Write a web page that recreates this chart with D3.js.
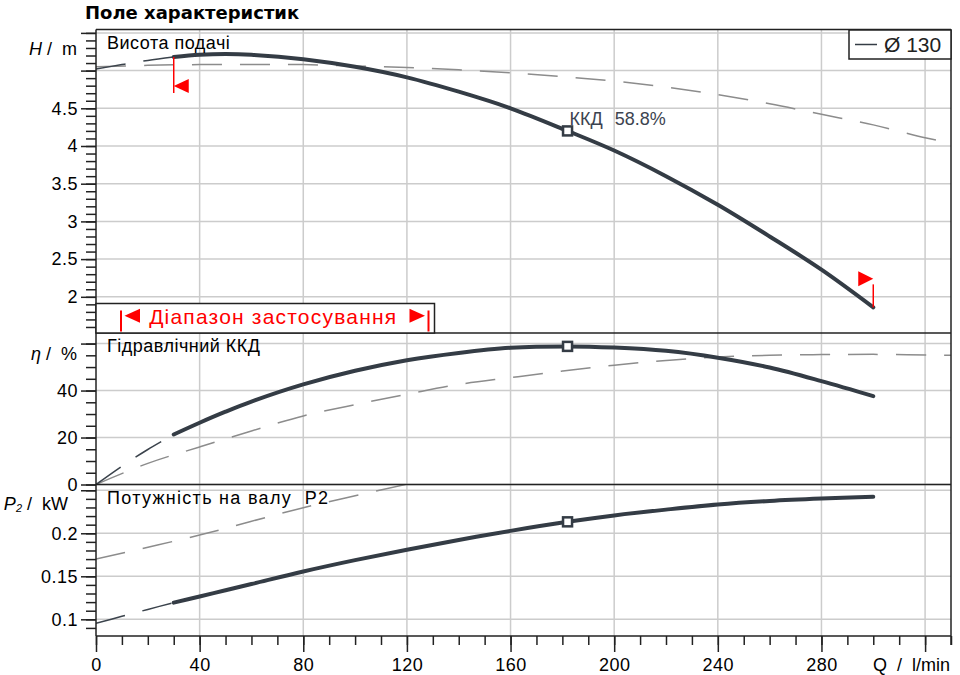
<!DOCTYPE html>
<html>
<head>
<meta charset="utf-8">
<script src="https://cdn.jsdelivr.net/npm/d3@7"></script>
<style>
  body { margin: 0; background: #fff; }
  svg { display: block; font-family: "Liberation Sans", Arial, sans-serif; }
  svg text { white-space: pre; }
</style>
</head>
<body>
<svg id="chart"></svg>
<script>
// ---- data ----
const xTicks = [0, 40, 80, 120, 160, 200, 240, 280, 320];
const xLabels = ["0", "40", "80", "120", "160", "200", "240", "280", ""];

// operating range of the Ø 130 impeller (solid lines)
const qMain = [30, 40, 50, 60, 80, 100, 120, 140, 160, 182, 200, 220, 240, 260, 280, 300];
const headMain = [5.18, 5.21, 5.22, 5.21, 5.15, 5.05, 4.91, 4.72, 4.50, 4.20, 3.94, 3.60, 3.22, 2.80, 2.36, 1.86];
const etaMain = [21.3, 26.3, 31.0, 35.3, 42.6, 48.4, 52.9, 56.0, 58.2, 58.8, 58.3, 56.9, 54.0, 49.8, 44.0, 37.6];
const powerMain = [0.1194, 0.1265, 0.1338, 0.1410, 0.1556, 0.1688, 0.1809, 0.1922, 0.2028, 0.2133, 0.2207, 0.2275, 0.2335, 0.2376, 0.2404, 0.2425];

// run-in below the operating range (thin dark dashes)
const qLow = [0, 10, 20, 30];
const headLow = [5.02, 5.08, 5.135, 5.18];
const etaLow = [0, 7.8, 14.9, 21.3];
const powerLow = [0.0953, 0.1035, 0.1115, 0.1194];

// reference curves (grey dashes)
const qHeadRef = [0, 20, 40, 60, 80, 100, 120, 140, 160, 180, 200, 220, 240, 260, 280, 300, 320, 330];
const headRef = [5.05, 5.07, 5.08, 5.08, 5.08, 5.06, 5.04, 5.01, 4.97, 4.92, 4.86, 4.78, 4.68, 4.56, 4.42, 4.28, 4.11, 4.04];
const qEtaRef = [0, 20, 40, 60, 80, 100, 120, 140, 160, 180, 200, 220, 240, 260, 280, 300, 330];
const etaRef = [0, 9.0, 16.0, 22.8, 29.2, 34.0, 38.4, 42.6, 45.5, 48.3, 50.8, 52.8, 54.3, 55.0, 55.3, 55.4, 55.0];
const qPowerRef = [0, 40, 80, 120];
const powerRef = [0.170, 0.198, 0.2297, 0.257];

const dutyIndex = qMain.indexOf(182);

// axis ticks per panel
const headMajor = [2, 2.5, 3, 3.5, 4, 4.5, 5, 5.5];
const headLabels = ["2", "2.5", "3", "3.5", "4", "4.5", "", ""];
const headMinor = d3.range(16, 56).map(d => d / 10);
const etaMajor = [0, 20, 40, 60];
const etaLabels = ["0", "20", "40", ""];
const etaMinor = d3.range(0, 61, 5);
const powerMajor = [0.1, 0.15, 0.2, 0.25];
const powerLabels = ["0.1", "0.15", "0.2", ""];
const powerMinor = d3.range(9, 26).map(d => d / 100);

class PumpCurveVis {
    constructor(_config) {
        this.config = {
            parentElement: _config.parentElement,
            containerWidth: _config.containerWidth || 960,
            containerHeight: _config.containerHeight || 675,
            left: 96,
            right: 951,
            top: 29.5,
            bottom: 636,
        };
        this.initVis();
    }

    initVis() {
        let vis = this;
        const c = vis.config;

        vis.svg = d3.select(c.parentElement)
            .attr("width", c.containerWidth)
            .attr("height", c.containerHeight);

        vis.x = d3.scaleLinear().domain([0, 330]).range([c.left, c.right]);

        vis.panels = [
            {
                key: "head", top: c.top, bottom: 333, domain: [1.52, 5.545],
                major: headMajor, labels: headLabels, minor: headMinor,
                title: "Висота подачі", spacing: 0.5,
                solid: qMain.map((q, i) => [q, headMain[i]]),
                low: qLow.map((q, i) => [q, headLow[i]]),
                ref: qHeadRef.map((q, i) => [q, headRef[i]]),
            },
            {
                key: "eta", top: 333, bottom: 484.5, domain: [0, 64.5],
                major: etaMajor, labels: etaLabels, minor: etaMinor,
                title: "Гідравлічний ККД", spacing: 0.5,
                solid: qMain.map((q, i) => [q, etaMain[i]]),
                low: qLow.map((q, i) => [q, etaLow[i]]),
                ref: qEtaRef.map((q, i) => [q, etaRef[i]]),
            },
            {
                key: "power", top: 484.5, bottom: c.bottom, domain: [0.0806, 0.2567],
                major: powerMajor, labels: powerLabels, minor: powerMinor,
                title: "Потужність на валу  P2", spacing: 1.3,
                solid: qMain.map((q, i) => [q, powerMain[i]]),
                low: qLow.map((q, i) => [q, powerLow[i]]),
                ref: qPowerRef.map((q, i) => [q, powerRef[i]]),
            },
        ];
        vis.panels.forEach(p => {
            p.y = d3.scaleLinear().domain(p.domain).range([p.bottom, p.top]);
        });

        vis.grid = vis.svg.append("g");
        vis.chart = vis.svg.append("g");
        vis.frame = vis.svg.append("g");
        vis.annot = vis.svg.append("g");

        vis.renderVis();
    }

    renderVis() {
        let vis = this;
        const c = vis.config;
        const x = vis.x;

        // vertical grid through all panels
        vis.grid.selectAll(".vgrid")
            .data(xTicks.filter(d => d > 0))
            .join("line")
            .attr("class", "vgrid")
            .attr("x1", d => x(d)).attr("x2", d => x(d))
            .attr("y1", c.top).attr("y2", c.bottom)
            .attr("stroke", "#cccccc").attr("stroke-width", 1.5);

        vis.panels.forEach(p => {
            const y = p.y;

            vis.grid.selectAll(".hgrid-" + p.key)
                .data(p.major)
                .join("line")
                .attr("class", "hgrid-" + p.key)
                .attr("x1", c.left).attr("x2", c.right)
                .attr("y1", d => y(d)).attr("y2", d => y(d))
                .attr("stroke", "#cccccc").attr("stroke-width", 1.5);

            vis.svg.append("clipPath").attr("id", "clip-" + p.key)
                .append("rect")
                .attr("x", c.left).attr("y", p.top)
                .attr("width", c.right - c.left).attr("height", p.bottom - p.top);

            const g = vis.chart.append("g").attr("clip-path", `url(#clip-${p.key})`);
            const line = d3.line()
                .x(d => x(d[0]))
                .y(d => y(d[1]))
                .curve(d3.curveCatmullRom.alpha(0.5));

            g.append("path").datum(p.ref)
                .attr("d", line)
                .attr("fill", "none")
                .attr("stroke", "#8c8c8c").attr("stroke-width", 1.5)
                .attr("stroke-dasharray", "30,18");

            g.append("path").datum(p.low)
                .attr("d", line)
                .attr("fill", "none")
                .attr("stroke", "#3b434c").attr("stroke-width", 1.5)
                .attr("stroke-dasharray", "30,18");

            g.append("path").datum(p.solid)
                .attr("d", line)
                .attr("fill", "none")
                .attr("stroke", "#343c45").attr("stroke-width", 4)
                .attr("stroke-linecap", "round");

            // duty point marker
            const duty = p.solid[dutyIndex];
            g.append("rect")
                .attr("x", x(duty[0]) - 4.5).attr("y", y(duty[1]) - 4.5)
                .attr("width", 9).attr("height", 9)
                .attr("fill", "#fff")
                .attr("stroke", "#343c45").attr("stroke-width", 2.5);

            // y axis: major + minor ticks
            const major = vis.frame.append("g")
                .attr("transform", `translate(${c.left},0)`)
                .call(d3.axisLeft(y).tickValues(p.major).tickSize(15).tickPadding(3)
                    .tickFormat((d, i) => p.labels[i]));
            const minor = vis.frame.append("g")
                .attr("transform", `translate(${c.left},0)`)
                .call(d3.axisLeft(y).tickValues(p.minor).tickSize(10).tickFormat(""));
            [major, minor].forEach(a => {
                a.select(".domain").remove();
                a.selectAll("line").attr("stroke", "#222").attr("stroke-width", 1.5);
            });
            major.selectAll("text")
                .attr("fill", "#000")
                .style("font-family", '"Liberation Sans", Arial, sans-serif')
                .style("font-size", "18px")
                .style("letter-spacing", "0.5px");

            vis.annot.append("text")
                .attr("x", 107).attr("y", p.top + 19)
                .attr("fill", "#000")
                .style("font-size", "18px")
                .style("letter-spacing", p.spacing + "px")
                .text(p.title);
        });

        // x axis
        const xMajor = vis.frame.append("g")
            .attr("transform", `translate(0,${c.bottom})`)
            .call(d3.axisBottom(x).tickValues(xTicks).tickSize(16).tickPadding(6)
                .tickFormat((d, i) => xLabels[i]));
        const xMinor = vis.frame.append("g")
            .attr("transform", `translate(0,${c.bottom})`)
            .call(d3.axisBottom(x).tickValues(d3.range(0, 331, 10)).tickSize(9).tickFormat(""));
        [xMajor, xMinor].forEach(a => {
            a.select(".domain").remove();
            a.selectAll("line").attr("stroke", "#222").attr("stroke-width", 1.5);
        });
        xMajor.selectAll("text")
            .attr("fill", "#000")
            .style("font-family", '"Liberation Sans", Arial, sans-serif')
            .style("font-size", "18px")
            .style("letter-spacing", "0.5px");

        // frame and panel separators
        const hLines = [c.top, vis.panels[1].top, vis.panels[2].top, c.bottom];
        vis.frame.selectAll(".sep")
            .data(hLines)
            .join("line")
            .attr("class", "sep")
            .attr("x1", c.left).attr("x2", c.right)
            .attr("y1", d => d).attr("y2", d => d)
            .attr("stroke", "#222").attr("stroke-width", 1.5);
        vis.frame.append("line")
            .attr("x1", c.left).attr("x2", c.left)
            .attr("y1", c.top).attr("y2", c.bottom)
            .attr("stroke", "#222").attr("stroke-width", 1.5);
        vis.frame.append("line")
            .attr("x1", c.right).attr("x2", c.right)
            .attr("y1", c.top).attr("y2", c.bottom + 9)
            .attr("stroke", "#222").attr("stroke-width", 1.5);

        vis.renderAnnotations();
    }

    renderAnnotations() {
        let vis = this;
        const c = vis.config;
        const x = vis.x;
        const yH = vis.panels[0].y;
        const a = vis.annot;

        // title
        a.append("text")
            .attr("x", 85).attr("y", 19)
            .style("font-family", '"DejaVu Sans", Verdana, sans-serif')
            .style("font-weight", "bold")
            .style("font-size", "18px")
            .text("Поле характеристик");

        // axis titles
        const axisTitle = (xPos, yPos) => a.append("text")
            .attr("x", xPos).attr("y", yPos)
            .attr("text-anchor", "end")
            .attr("xml:space", "preserve")
            .style("font-size", "18px");

        const h = axisTitle(77, 55);
        h.append("tspan").style("font-style", "italic").text("H");
        h.append("tspan").text(" /  m");

        const e = axisTitle(77, 360);
        e.append("tspan").style("font-style", "italic").text("η");
        e.append("tspan").text(" /  %");

        const pw = axisTitle(68, 510);
        pw.append("tspan").style("font-style", "italic").text("P");
        pw.append("tspan").style("font-style", "italic").style("font-size", "11px").attr("dy", 2).text("2");
        pw.append("tspan").attr("dy", -2).text(" /  kW");

        axisTitle(950, 671).text("Q  /  l/min");

        // efficiency at duty point
        const duty = vis.panels[0].solid[dutyIndex];
        const k = a.append("text")
            .attr("x", x(duty[0]) + 2).attr("y", yH(duty[1]) - 6)
            .attr("fill", "#3c4450")
            .style("font-size", "18px");
        k.append("tspan").text("ККД");
        k.append("tspan").attr("dx", 12).text(`${etaMain[dutyIndex]}%`);

        // legend
        a.append("rect")
            .attr("x", 849).attr("y", c.top + 0.5)
            .attr("width", c.right - 849).attr("height", 29)
            .attr("fill", "#fff").attr("stroke", "#222").attr("stroke-width", 1.5);
        a.append("line")
            .attr("x1", 855).attr("x2", 877).attr("y1", 44.5).attr("y2", 44.5)
            .attr("stroke", "#343c45").attr("stroke-width", 1.5);
        a.append("text")
            .attr("x", 884).attr("y", 52)
            .attr("fill", "#222")
            .style("font-size", "21px")
            .text("Ø 130");

        // operating limits on the head curve
        const red = "#ff0000";
        const first = vis.panels[0].solid[0];
        const last = vis.panels[0].solid[vis.panels[0].solid.length - 1];
        const fx = x(first[0]), fy = yH(first[1]);
        const lx = x(last[0]), ly = yH(last[1]);

        a.append("line")
            .attr("x1", fx).attr("x2", fx).attr("y1", fy).attr("y2", fy + 36)
            .attr("stroke", red).attr("stroke-width", 1.5);
        a.append("path")
            .attr("d", `M${fx},${fy + 29}L${fx + 15},${fy + 22}L${fx + 15},${fy + 36}Z`)
            .attr("fill", red);
        a.append("line")
            .attr("x1", lx).attr("x2", lx).attr("y1", ly).attr("y2", ly - 23)
            .attr("stroke", red).attr("stroke-width", 1.5);
        a.append("path")
            .attr("d", `M${lx},${ly - 28.5}L${lx - 15},${ly - 36}L${lx - 15},${ly - 21}Z`)
            .attr("fill", red);

        // application range box
        const bx0 = c.left, bx1 = 434.5, by0 = 303.5, by1 = vis.panels[1].top;
        a.append("rect")
            .attr("x", bx0).attr("y", by0)
            .attr("width", bx1 - bx0).attr("height", by1 - by0)
            .attr("fill", "#fff").attr("stroke", "#222").attr("stroke-width", 1.5);
        const midY = 315.7;
        [[121, 1], [428.5, -1]].forEach(([bar, dir]) => {
            a.append("line")
                .attr("x1", bar).attr("x2", bar).attr("y1", 310.5).attr("y2", 331.5)
                .attr("stroke", red).attr("stroke-width", 2);
            const t0 = bar + dir * 3.5, t1 = bar + dir * 19;
            a.append("path")
                .attr("d", `M${t0},${midY}L${t1},${midY - 7}L${t1},${midY + 7}Z`)
                .attr("fill", red);
        });
        a.append("text")
            .attr("x", (bx0 + bx1) / 2 + 8).attr("y", 323.5)
            .attr("text-anchor", "middle")
            .attr("fill", red)
            .style("font-size", "21px")
            .style("letter-spacing", "1.2px")
            .text("Діапазон застосування");
    }
}

new PumpCurveVis({ parentElement: "#chart" });
</script>
</body>
</html>
